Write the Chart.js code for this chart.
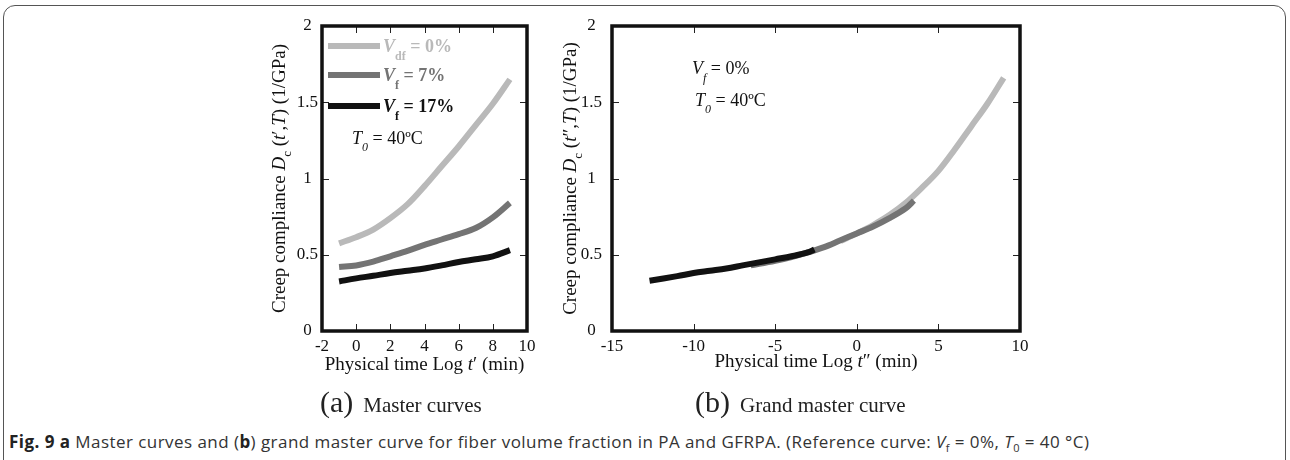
<!DOCTYPE html>
<html lang="en">
<head>
<meta charset="UTF-8">
<title>Master curves</title>
<script src="https://cdn.jsdelivr.net/npm/chart.js"></script>
<style>
  body { margin:0; width:1290px; height:460px; overflow:hidden; background:#fff; position:relative; font-family:"Liberation Serif", serif; }
  .frame { position:absolute; left:3px; top:5px; width:1283px; height:490px; border:1.5px solid #555; border-radius:12px; box-sizing:border-box; }
  #wrapA { position:absolute; left:230px; top:0; width:320px; height:390px; }
  #wrapB { position:absolute; left:520px; top:0; width:540px; height:390px; }
  .sub { position:absolute; top:385px; font-size:21px; color:#222; white-space:nowrap; }
  .sub span { font-size:30px; margin-right:10px; }
  .caption { position:absolute; left:9px; top:430px; font-family:"Open Sans", sans-serif; font-size:17px; letter-spacing:0.45px; color:#333; white-space:nowrap; }
  .caption b { color:#222; }
  .caption sub { font-size:11px; }
</style>
</head>
<body>
<div class="frame"></div>
<div id="wrapA"><canvas id="chartA" width="320" height="390"></canvas></div>
<div id="wrapB"><canvas id="chartB" width="540" height="390"></canvas></div>
<div class="sub" style="left:320px"><span>(a)</span>Master curves</div>
<div class="sub" style="left:695px"><span>(b)</span>Grand master curve</div>
<div class="caption"><b>Fig. 9 a</b> Master curves and (<b>b</b>) grand master curve for fiber volume fraction in PA and GFRPA. (Reference curve: <i>V</i><sub>f</sub> = 0%, <i>T</i><sub>0</sub> = 40 °C)</div>

<script>
// (a) master curves, x = Log t' (min)
const logT = [-1, 0, 1, 2, 3, 4, 5, 6, 7, 8, 9];
const dVf0 = [0.575, 0.615, 0.665, 0.74, 0.83, 0.95, 1.08, 1.21, 1.35, 1.49, 1.65];
const dVf7 = [0.42, 0.43, 0.455, 0.49, 0.525, 0.565, 0.6, 0.635, 0.675, 0.745, 0.84];
const dVf17 = [0.325, 0.345, 0.362, 0.38, 0.395, 0.41, 0.43, 0.452, 0.47, 0.49, 0.53];

// (b) grand master curve, x = Log t'' (min)
const gT17 = [-12.7, -11, -10, -9, -8, -7, -6, -5, -4, -3, -2.6];
const gD17 = [0.33, 0.36, 0.38, 0.395, 0.41, 0.43, 0.45, 0.47, 0.49, 0.515, 0.535];
const gT7 = [-6.5, -5, -4, -3, -2, -1, 0, 1, 2, 3, 3.5];
const gD7 = [0.43, 0.46, 0.485, 0.515, 0.55, 0.595, 0.64, 0.685, 0.74, 0.805, 0.855];
const gT0 = [-1, 0, 1, 2, 3, 4, 5, 6, 7, 8, 9];
const gD0 = [0.59, 0.64, 0.695, 0.76, 0.84, 0.94, 1.05, 1.19, 1.34, 1.49, 1.66];

const ticksA = [-2, 0, 2, 4, 6, 8, 10];
const ticksB = [-15, -10, -5, 0, 5, 10];
const ticksY = [0, 0.5, 1, 1.5, 2];

const LIGHT = '#b9b9b9', MID = '#747474', DARK = '#111111';
const SERIF = '"Liberation Serif", serif';

function pts(xs, ys) {
    return xs.map((v, i) => ({x: v, y: ys[i]}));
}

function line(ctx, x1, y1, x2, y2) {
    ctx.beginPath(); ctx.moveTo(x1, y1); ctx.lineTo(x2, y2); ctx.stroke();
}

// parts: [text, font, dy]
function rich(ctx, x, y, parts, align) {
    let w = 0;
    parts.forEach(p => { ctx.font = p[1]; w += ctx.measureText(p[0]).width; });
    let cx = align === 'center' ? x - w / 2 : x;
    ctx.textAlign = 'left';
    ctx.textBaseline = 'alphabetic';
    parts.forEach(p => {
        ctx.font = p[1];
        ctx.fillText(p[0], cx, y + (p[2] || 0));
        cx += ctx.measureText(p[0]).width;
    });
}

const R = s => s + 'px ' + SERIF;
const I = s => 'italic ' + s + 'px ' + SERIF;
const B = s => 'bold ' + s + 'px ' + SERIF;
const BI = s => 'italic bold ' + s + 'px ' + SERIF;

const framePlugin = {
    id: 'frame',
    afterDatasetsDraw(chart, args, opts) {
        const {ctx, chartArea: a, scales: {x, y}} = chart;
        ctx.save();
        ctx.strokeStyle = '#222';
        ctx.lineWidth = 1;
        opts.xt.forEach(v => {
            const px = Math.round(x.getPixelForValue(v)) + 0.5;
            line(ctx, px, a.bottom, px, a.bottom - 7);
            line(ctx, px, a.top, px, a.top + 7);
        });
        [0.5, 1, 1.5].forEach(v => {
            const py = Math.round(y.getPixelForValue(v)) + 0.5;
            line(ctx, a.left, py, a.left + 7, py);
            line(ctx, a.right, py, a.right - 7, py);
        });
        ctx.strokeStyle = '#111';
        ctx.lineWidth = 3.5;
        ctx.strokeRect(a.left, a.top, a.right - a.left, a.bottom - a.top);

        // axis titles
        ctx.fillStyle = '#111';
        const f = 19;
        rich(ctx, (a.left + a.right) / 2, opts.xTitleY, [
            ['Physical time Log ', R(f)], ['t', I(f)], [opts.prime, R(f)], [' (min)', R(f)]
        ], 'center');
        ctx.save();
        ctx.translate(opts.yTitleX, (a.top + a.bottom) / 2);
        ctx.rotate(-Math.PI / 2);
        rich(ctx, 0, 0, [
            ['Creep compliance ', R(f)], ['D', I(f)], ['c', R(13), 6], [' (', R(f)],
            ['t', I(f)], [opts.prime + ',', R(f)], ['T', I(f)], [') (1/GPa)', R(f)]
        ], 'center');
        ctx.restore();
        if (opts.extra) opts.extra(ctx, a);
        ctx.restore();
    }
};

function baseOptions(xMin, xMax, xt, pad, tl, opts) {
    return {
        responsive: false,
        animation: false,
        layout: {padding: pad},
        plugins: {legend: {display: false}, tooltip: {enabled: false}, frame: opts},
        scales: {
            x: {
                type: 'linear', min: xMin, max: xMax,
                afterBuildTicks: s => { s.ticks = xt.map(v => ({value: v})); },
                afterFit: s => { s.height = 59; },
                grid: {display: false, drawTicks: false}, border: {display: false},
                ticks: {color: '#111', padding: 5, maxRotation: 0, font: {family: SERIF, size: 17},
                    callback: v => String(v)}
            },
            y: {
                type: 'linear', min: 0, max: 2,
                afterBuildTicks: s => { s.ticks = ticksY.map(v => ({value: v})); },
                afterFit: s => { s.width = 92; },
                grid: {display: false, drawTicks: false}, border: {display: false},
                ticks: {color: '#111', padding: tl, crossAlign: 'center', font: {family: SERIF, size: 17},
                    callback: v => String(v)}
            }
        }
    };
}

function ds(data, color, order) {
    return {data: data, borderColor: color, backgroundColor: color, borderWidth: 6,
        showLine: true, pointRadius: 0, tension: 0.35, borderCapStyle: 'butt', order: order};
}

new Chart(document.getElementById('chartA'), {
    type: 'scatter',
    data: {datasets: [
        ds(pts(logT, dVf17), DARK, 0),
        ds(pts(logT, dVf7), MID, 1),
        ds(pts(logT, dVf0), LIGHT, 2)
    ]},
    options: baseOptions(-2, 10, ticksA, {top: 26, right: 23, left: 0, bottom: 0}, 4, {
        xt: [0, 2, 4, 6, 8], prime: '\u2032', xTitleY: 370, yTitleX: 55,
        extra: (ctx, a) => {
            const rows = [[LIGHT, 46, 'df'], [MID, 75, 'f'], [DARK, 106, 'f']];
            const pct = [' = 0%', ' = 7%', ' = 17%'];
            rows.forEach((r, i) => {
                ctx.strokeStyle = r[0]; ctx.lineWidth = 6;
                line(ctx, a.left + 6, r[1], a.left + 58, r[1]);
                ctx.fillStyle = r[0];
                rich(ctx, a.left + 61, r[1] + 6, [['V', BI(18)], [r[2], B(12), 8], [pct[i], B(18)]]);
            });
            ctx.fillStyle = '#111';
            rich(ctx, a.left + 30, 144, [['T', I(18)], ['0', I(12), 7], [' = 40ºC', R(18)]]);
        }
    }),
    plugins: [framePlugin]
});

new Chart(document.getElementById('chartB'), {
    type: 'scatter',
    data: {datasets: [
        ds(pts(gT17, gD17), DARK, 0),
        ds(pts(gT7, gD7), MID, 1),
        ds(pts(gT0, gD0), LIGHT, 2)
    ]},
    options: baseOptions(-15, 10, ticksB, {top: 26, right: 40, left: 0, bottom: 0}, 10, {
        xt: [-10, -5, 0, 5], prime: '\u2033', xTitleY: 367, yTitleX: 56,
        extra: (ctx, a) => {
            ctx.fillStyle = '#111';
            rich(ctx, a.left + 80, 74, [['V', I(18)], ['f', I(12), 8], [' = 0%', R(18)]]);
            rich(ctx, a.left + 83, 106, [['T', I(18)], ['0', I(12), 7], [' = 40ºC', R(18)]]);
        }
    }),
    plugins: [framePlugin]
});
</script>
</body>
</html>
